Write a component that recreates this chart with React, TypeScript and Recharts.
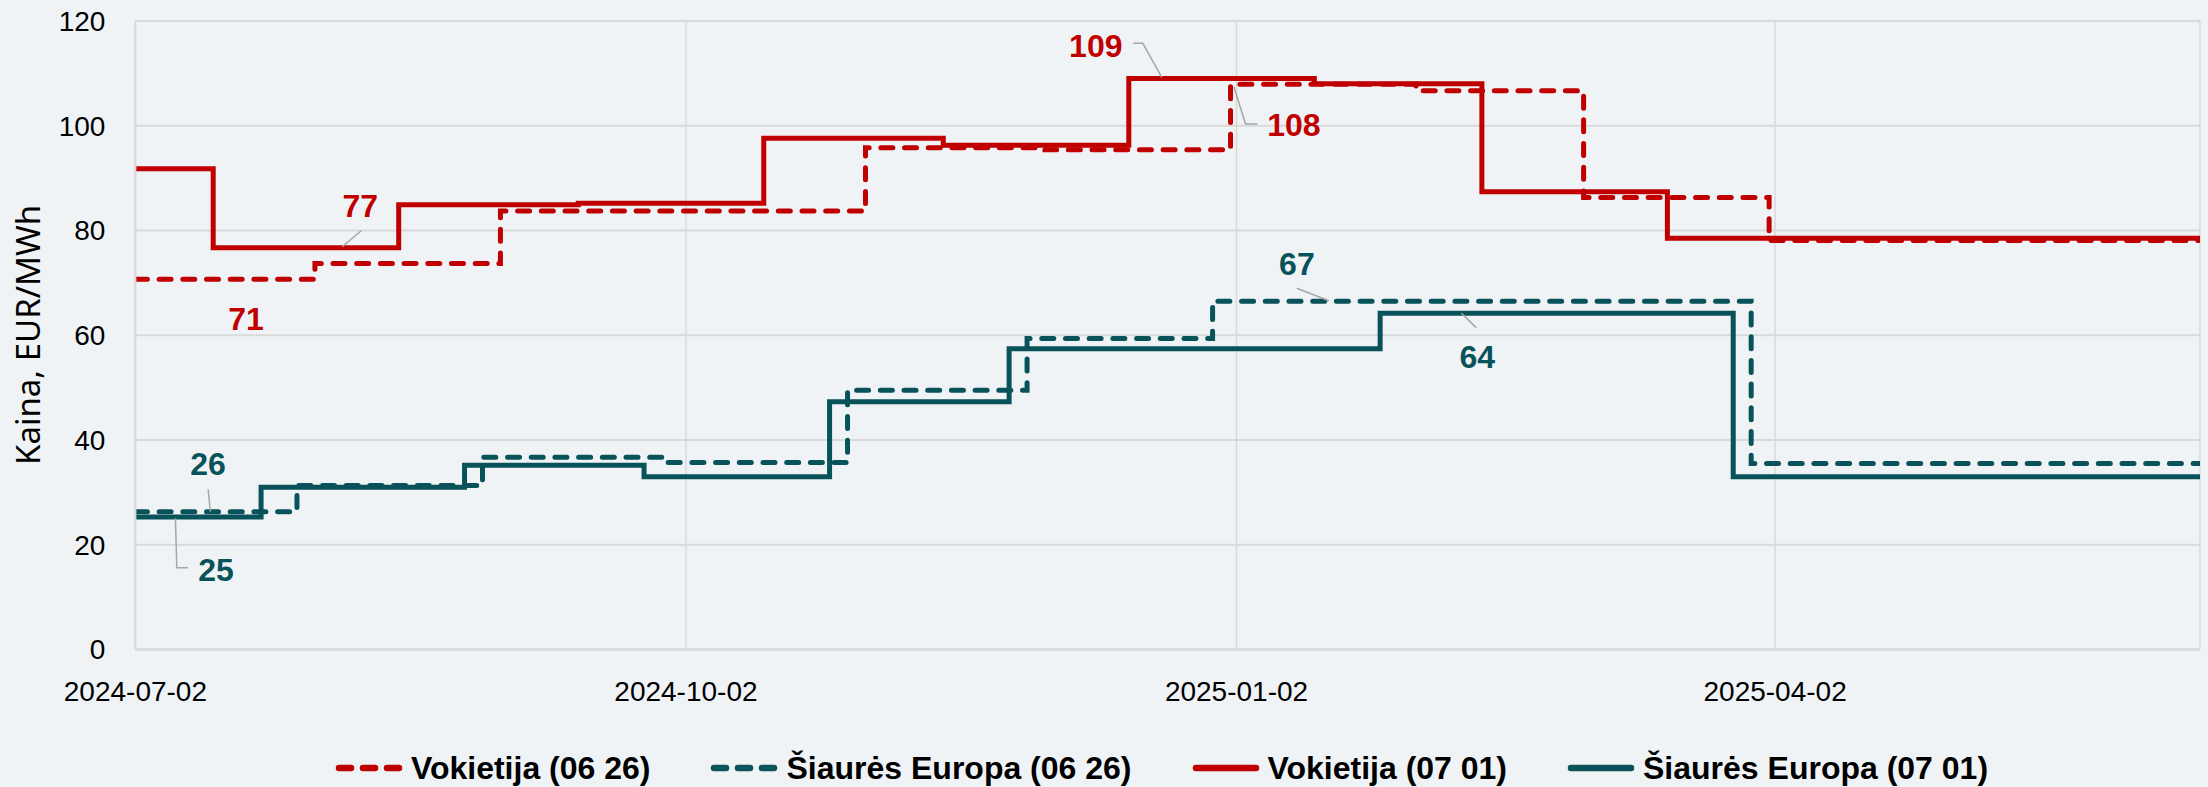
import { LineChart, Line, XAxis, YAxis, CartesianGrid, Legend } from 'recharts';

// change dates and prices (EUR/MWh)
const deDates0626 = ['2024-07-02', '2024-08-01', '2024-09-01', '2024-11-01', '2024-12-01', '2025-01-01', '2025-02-01', '2025-03-01', '2025-04-01', '2025-06-12'];
const deValues0626 = [70.7, 73.7, 83.7, 95.8, 95.4, 107.9, 106.7, 86.3, 78.1, 78.1];

const neDates0626 = ['2024-07-02', '2024-07-29', '2024-08-29', '2024-09-28', '2024-10-29', '2024-11-28', '2024-12-29', '2025-03-29', '2025-06-12'];
const neValues0626 = [26.3, 31.3, 36.7, 35.7, 49.5, 59.4, 66.5, 35.5, 35.5];

const deDates0701 = ['2024-07-02', '2024-07-15', '2024-08-15', '2024-09-14', '2024-10-15', '2024-11-14', '2024-12-15', '2025-01-15', '2025-02-12', '2025-03-15', '2025-06-12'];
const deValues0701 = [91.8, 76.7, 84.9, 85.2, 97.6, 96.3, 109.0, 108.0, 87.4, 78.5, 78.5];

const neDates0701 = ['2024-07-02', '2024-07-23', '2024-08-26', '2024-09-25', '2024-10-26', '2024-11-25', '2025-01-26', '2025-03-26', '2025-06-12'];
const neValues0701 = [25.3, 31.0, 35.2, 33.0, 47.3, 57.4, 64.2, 33.0, 33.0];

const xTickDates = ['2024-07-02', '2024-10-02', '2025-01-02', '2025-04-02'];
const yTicks = [0, 20, 40, 60, 80, 100, 120];
const startDate = '2024-07-02';
const endDate = '2025-06-12';

const RED = '#C00000';
const TEAL = '#08525A';
const BG = '#F0F3F6';
const GRID = '#D9D9D9';

const toTs = (d: string) => Date.parse(d + 'T00:00:00Z');
const build = (dates: string[], values: number[]) => dates.map((d, i) => ({ t: toTs(d), v: values[i] }));

const fmtDate = (t: number) => new Date(t).toISOString().slice(0, 10);

type Note = { index: number; dx: number; dy: number; leader?: number[][] };

// which point of a series gets a value label, and where the label sits relative to it
const makeLabel = (notes: Note[], color: string) => (props: any) => {
  const n = notes.find((a) => a.index === props.index);
  if (!n) return null;
  const { x, y, value } = props;
  return (
    <g key={`lbl-${props.index}`}>
      {n.leader && (
        <polyline
          points={n.leader.map((p) => `${x + p[0]},${y + p[1]}`).join(' ')}
          fill="none"
          stroke="#A6A6A6"
          strokeWidth={1.5}
        />
      )}
      <text
        x={x + n.dx}
        y={y + n.dy}
        dy="0.36em"
        textAnchor="middle"
        fill={color}
        fontFamily="Liberation Sans, Arial, sans-serif"
        fontWeight="bold"
        fontSize={32}
      >
        {Math.round(value)}
      </text>
    </g>
  );
};

const legendItems = [
  { name: 'Vokietija (06 26)', color: RED, dashed: true },
  { name: 'Šiaurės Europa (06 26)', color: TEAL, dashed: true },
  { name: 'Vokietija (07 01)', color: RED, dashed: false },
  { name: 'Šiaurės Europa (07 01)', color: TEAL, dashed: false },
];

const renderLegend = () => (
  <div style={{ display: 'flex', justifyContent: 'center', alignItems: 'center', height: 40, gap: 60 }}>
    {legendItems.map((it) => (
      <div key={it.name} style={{ display: 'flex', alignItems: 'center', gap: 8 }}>
        <svg width={68} height={10}>
          <line
            x1={4}
            y1={5}
            x2={64}
            y2={5}
            stroke={it.color}
            strokeWidth={6.5}
            strokeLinecap="round"
            strokeDasharray={it.dashed ? '12 12' : undefined}
          />
        </svg>
        <span style={{ fontFamily: 'Liberation Sans, Arial, sans-serif', fontWeight: 'bold', fontSize: 32, color: '#000' }}>
          {it.name}
        </span>
      </div>
    ))}
  </div>
);

export default function App() {
  const de0626 = build(deDates0626, deValues0626);
  const ne0626 = build(neDates0626, neValues0626);
  const de0701 = build(deDates0701, deValues0701);
  const ne0701 = build(neDates0701, neValues0701);

  const tickFont = { fontFamily: 'Liberation Sans, Arial, sans-serif', fontSize: 28, fill: '#000' };

  return (
    <div style={{ position: 'absolute', left: 0, top: 0, width: 2208, height: 787, background: BG }}>
      <LineChart width={2208} height={787} margin={{ top: 21, right: 8, bottom: 0, left: 0 }}>
        <CartesianGrid vertical={false} stroke={GRID} strokeWidth={2} />
        <CartesianGrid horizontal={false} stroke={GRID} strokeWidth={1.5} />
        <XAxis
          type="number"
          dataKey="t"
          domain={[toTs(startDate), toTs(endDate)]}
          ticks={xTickDates.map(toTs)}
          tickFormatter={fmtDate}
          allowDataOverflow
          height={137.5}
          tickSize={0}
          tickMargin={32}
          axisLine={{ stroke: GRID, strokeWidth: 2.5 }}
          tick={tickFont}
        />
        <YAxis
          domain={[0, 120]}
          ticks={yTicks}
          width={135.4}
          tickSize={0}
          tickMargin={30}
          axisLine={{ stroke: GRID, strokeWidth: 2 }}
          tick={tickFont}
          label={{
            content: () => (
              <text
                x={28}
                y={335}
                transform="rotate(-90 28 335)"
                textAnchor="middle"
                dy="0.36em"
                fontFamily="Noto Sans, Arial, sans-serif"
                fontSize={33}
                fill="#000"
              >
                Kaina, EUR/MWh
              </text>
            ),
          }}
        />
        <Legend
          content={renderLegend}
          layout="horizontal"
          verticalAlign="middle"
          align="center"
          wrapperStyle={{ top: 748, left: 129, width: 2065 }}
        />
        <Line
          data={de0626}
          dataKey="v"
          name="Vokietija (06 26)"
          type="stepAfter"
          stroke={RED}
          strokeWidth={5}
          strokeDasharray="12 11.7"
          strokeLinecap="round"
          dot={false}
          activeDot={false}
          isAnimationActive={false}
          label={makeLabel(
            [
              { index: 0, dx: 110.6, dy: 38.8 },
              { index: 5, dx: 63.4, dy: 40.6, leader: [[27, 39.6], [15, 39.6], [3.4, 2.3]] },
            ],
            RED
          )}
        />
        <Line
          data={ne0626}
          dataKey="v"
          name="Šiaurės Europa (06 26)"
          type="stepAfter"
          stroke={TEAL}
          strokeWidth={5}
          strokeDasharray="12 11.7"
          strokeLinecap="round"
          dot={false}
          activeDot={false}
          isAnimationActive={false}
          label={makeLabel(
            [
              { index: 0, dx: 72.6, dy: -48.5, leader: [[72.7, -22.5], [75, -0.1]] },
              { index: 6, dx: 84.3, dy: -37.9, leader: [[84.2, -12.9], [116.3, -0.5]] },
            ],
            TEAL
          )}
        />
        <Line
          data={de0701}
          dataKey="v"
          name="Vokietija (07 01)"
          type="stepAfter"
          stroke={RED}
          strokeWidth={5}
          dot={false}
          activeDot={false}
          isAnimationActive={false}
          label={makeLabel(
            [
              { index: 1, dx: 147, dy: -42, leader: [[129, -1], [148, -17]] },
              { index: 6, dx: -33, dy: -33.6, leader: [[4.5, -35.3], [14, -35.3], [33, -1.3]] },
            ],
            RED
          )}
        />
        <Line
          data={ne0701}
          dataKey="v"
          name="Šiaurės Europa (07 01)"
          type="stepAfter"
          stroke={TEAL}
          strokeWidth={5}
          dot={false}
          activeDot={false}
          isAnimationActive={false}
          label={makeLabel(
            [
              { index: 0, dx: 80.6, dy: 52, leader: [[40, 1.3], [41.4, 50.7], [52.6, 50.7]] },
              { index: 6, dx: 97.2, dy: 43.4, leader: [[81.3, 0], [96, 14.4]] },
            ],
            TEAL
          )}
        />
      </LineChart>
    </div>
  );
}
